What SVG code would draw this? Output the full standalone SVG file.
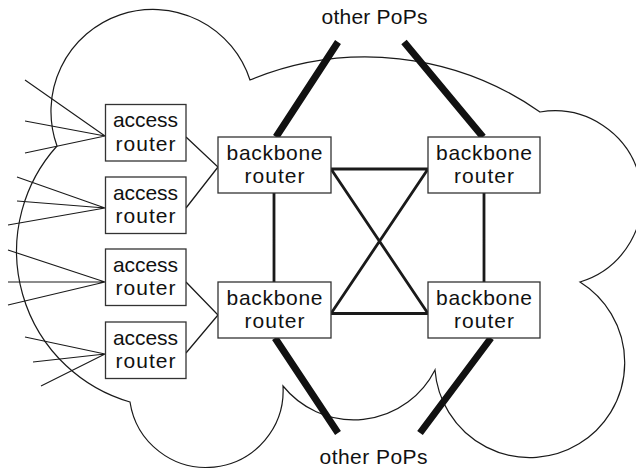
<svg xmlns="http://www.w3.org/2000/svg" width="636" height="470" viewBox="0 0 636 470">
<style>
.cloud{fill:none;stroke:#1a1a1a;stroke-width:1.2}
.fan{stroke:#1a1a1a;stroke-width:1.1;fill:none}
.link{stroke:#1a1a1a;stroke-width:1.3;fill:none}
.core{stroke:#1a1a1a;stroke-width:2.8;fill:none}
.pop{stroke:#111;stroke-width:7;fill:none}
.box{fill:#fff;stroke:#333;stroke-width:1.3}
text{font-family:"Liberation Sans",Arial,sans-serif;font-size:21px;fill:#111;text-anchor:middle}
</style>
<rect width="636" height="470" fill="#fff"/>
<path class="cloud" d="M57 146 A102 102 0 1 1 250 80 A303 303 0 0 1 540 112 A87.5 87.5 0 0 1 580 282 A95 95 0 1 1 435 370 A91 91 0 0 1 283 386 A77 77 0 0 1 130 402 A157 157 0 0 1 57 146 Z"/>
<g id="connectors">
<path class="fan" d="M25 80 L105 136 M25 121 L105 136 M25 153 L105 136"/>
<path class="fan" d="M17 177 L105 208 M17 201 L105 208 M8 225 L105 208"/>
<path class="fan" d="M8 250 L105 282 M8 282 L105 282 M8 305 L105 282"/>
<path class="fan" d="M25 337 L105 354 M33 362 L105 354 M41 386 L105 354"/>
<path class="link" d="M186 137 L218 167 L186 208"/>
<path class="link" d="M186 282 L218 315 L186 353"/>
<path class="core" d="M274 193 L274 282 M484 193 L484 282 M331 169 L428 169 M331 313.5 L428 313.5 M331 169 L428 313.5 M428 169 L331 313.5"/>
<path class="pop" d="M276 137 L338 42 M483 137 L404 42 M275 338 L338 433 M491 338 L420 433"/>
</g>
<g id="access1"><rect class="box" x="105.5" y="104.5" width="80.5" height="56.5"/><text x="145.5" y="127" textLength="65">access</text><text x="145.5" y="150.5" textLength="60">router</text></g>
<g id="access2"><rect class="box" x="105.5" y="177" width="80.5" height="56.5"/><text x="145.5" y="199.5" textLength="65">access</text><text x="145.5" y="223" textLength="60">router</text></g>
<g id="access3"><rect class="box" x="105.5" y="249" width="80.5" height="56.5"/><text x="145.5" y="271.5" textLength="65">access</text><text x="145.5" y="295" textLength="60">router</text></g>
<g id="access4"><rect class="box" x="105.5" y="322" width="80.5" height="56.5"/><text x="145.5" y="344.5" textLength="65">access</text><text x="145.5" y="368" textLength="60">router</text></g>
<g id="backbone1"><rect class="box" x="218" y="137" width="113" height="56"/><text x="274.5" y="160" textLength="96">backbone</text><text x="274.5" y="183" textLength="60">router</text></g>
<g id="backbone2"><rect class="box" x="428" y="137" width="112" height="56"/><text x="484" y="160" textLength="96">backbone</text><text x="484" y="183" textLength="60">router</text></g>
<g id="backbone3"><rect class="box" x="218" y="282" width="113" height="56"/><text x="274.5" y="305" textLength="96">backbone</text><text x="274.5" y="328" textLength="60">router</text></g>
<g id="backbone4"><rect class="box" x="428" y="282" width="112" height="56"/><text x="484" y="305" textLength="96">backbone</text><text x="484" y="328" textLength="60">router</text></g>
<g id="pops-top"><text x="374.5" y="24" textLength="106">other PoPs</text></g>
<g id="pops-bottom"><text x="373.5" y="464" textLength="108">other PoPs</text></g>
</svg>
